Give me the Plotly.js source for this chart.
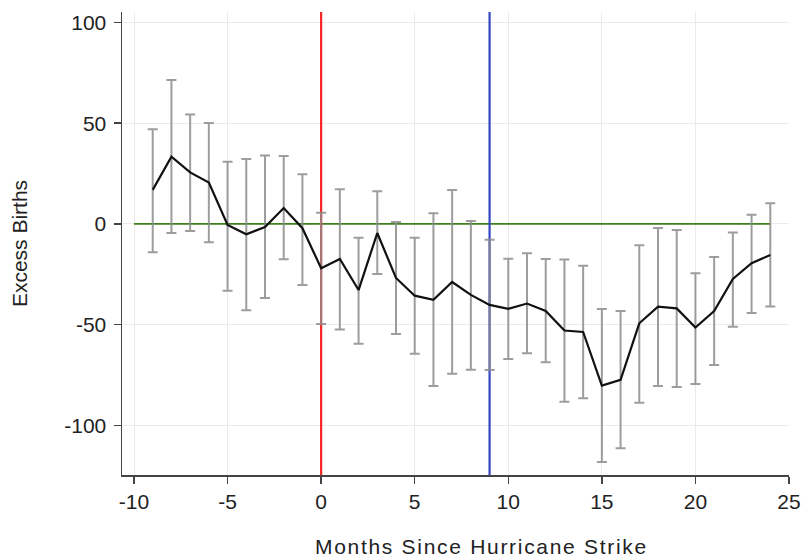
<!DOCTYPE html>
<html>
<head>
<meta charset="utf-8">
<script src="https://cdn.plot.ly/plotly-3.0.1.min.js"></script>
<style>
  html, body { margin: 0; padding: 0; background: #ffffff; }
  #chart { width: 802px; height: 558px; }
  .annotation-text { letter-spacing: 1.7px; }
</style>
</head>
<body>
<div id="chart"></div>
<script>
// Months relative to hurricane strike
const months = [-9, -8, -7, -6, -5, -4, -3, -2, -1, 0, 1, 2, 3, 4, 5, 6, 7, 8, 9, 10, 11, 12, 13, 14, 15, 16, 17, 18, 19, 20, 21, 22, 23, 24];
// Point estimates of excess births
const estimate = [16.9, 33.4, 25.6, 20.5, -0.5, -5.1, -1.5, 7.9, -2.1, -22.0, -17.4, -32.8, -4.5, -26.8, -35.6, -37.6, -28.8, -35.2, -40.2, -42.1, -39.5, -43.2, -52.9, -53.6, -80.2, -77.4, -49.3, -41.0, -41.9, -51.4, -43.2, -27.3, -19.5, -15.4];
// Upper confidence bound
const upper = [47.0, 71.5, 54.3, 50.1, 30.9, 32.3, 34.0, 33.7, 24.7, 5.6, 17.2, -6.9, 16.2, 1.0, -6.9, 5.3, 16.9, 1.5, -7.9, -17.3, -14.6, -17.4, -17.7, -20.8, -42.2, -43.2, -10.6, -2.0, -3.0, -24.5, -16.4, -4.3, 4.6, 10.3];
// Lower confidence bound
const lower = [-14.0, -4.5, -3.5, -9.1, -33.1, -42.8, -36.7, -17.5, -30.3, -49.6, -52.4, -59.4, -24.8, -54.6, -64.4, -80.4, -74.3, -72.3, -72.5, -67.0, -64.2, -68.7, -88.3, -86.5, -118.1, -111.3, -88.7, -80.4, -80.9, -79.4, -70.0, -51.0, -44.2, -41.0];
// Reference lines
const zeroLineSpan = [-10, 24];
const strikeMonth = 0;
const secondMonth = 9;
// Axis ranges and tick values
const xRange = [-10.641, 25];
const yRange = [-124.6, 105.2];
const xTicks = [-10, -5, 0, 5, 10, 15, 20, 25];
const yTicks = [-100, -50, 0, 50, 100];

const errPlus = upper.map((u, i) => u - estimate[i]);
const errMinus = lower.map((l, i) => estimate[i] - l);

const font = "Liberation Sans, Arial, Helvetica, sans-serif";

function refLine(xs, ys, color, width) {
  return { type: 'scatter', mode: 'lines', x: xs, y: ys, line: { color: color, width: width },
           hoverinfo: 'skip', showlegend: false, cliponaxis: true };
}

const traces = [
  refLine([zeroLineSpan[0], zeroLineSpan[1]], [0, 0], '#3f7f1f', 1.8),
  refLine([strikeMonth, strikeMonth], yRange, '#f52525', 2.2),
  refLine([secondMonth, secondMonth], yRange, '#3447c2', 2.2),
  {
    type: 'scatter',
    mode: 'lines',
    x: months,
    y: estimate,
    line: { color: '#111111', width: 2.2 },
    error_y: {
      type: 'data',
      symmetric: false,
      array: errPlus,
      arrayminus: errMinus,
      color: 'rgba(140,140,140,0.85)',
      thickness: 2,
      width: 5
    },
    hoverinfo: 'x+y',
    showlegend: false
  }
];

const layout = {
  width: 802,
  height: 558,
  paper_bgcolor: '#ffffff',
  plot_bgcolor: '#ffffff',
  margin: { l: 122, r: 13, t: 12, b: 83 },
  font: { family: font, size: 20, color: '#222222' },
  showlegend: false,
  xaxis: {
    range: xRange,
    tickvals: xTicks,
    ticktext: xTicks.map(String),
    ticks: 'outside',
    ticklen: 7,
    tickwidth: 1.5,
    tickcolor: '#444444',
    showline: true,
    linecolor: '#444444',
    linewidth: 1.5,
    showgrid: true,
    gridcolor: '#ebebeb',
    gridwidth: 1,
    zeroline: false,
    tickfont: { family: font, size: 21, color: '#222222' },
    title: { text: '' }
  },
  yaxis: {
    range: yRange,
    tickvals: yTicks,
    ticktext: yTicks.map(String),
    ticks: 'outside',
    ticklen: 7,
    tickwidth: 1.5,
    tickcolor: '#444444',
    showline: true,
    linecolor: '#444444',
    linewidth: 1.5,
    showgrid: true,
    gridcolor: '#ebebeb',
    gridwidth: 1,
    zeroline: false,
    tickfont: { family: font, size: 21, color: '#222222' },
    ticklabelstandoff: 3,
    title: { text: 'Excess Births', font: { family: font, size: 21, color: '#222222' }, standoff: 31 }
  },
  annotations: [{
    text: 'Months Since Hurricane Strike',
    xref: 'paper', yref: 'paper',
    x: 0.5386, y: 0,
    xanchor: 'center', yanchor: 'top',
    yshift: -58,
    showarrow: false,
    font: { family: font, size: 21, color: '#222222' }
  }]
};

Plotly.newPlot('chart', traces, layout, { displayModeBar: false, staticPlot: true });
</script>
</body>
</html>
